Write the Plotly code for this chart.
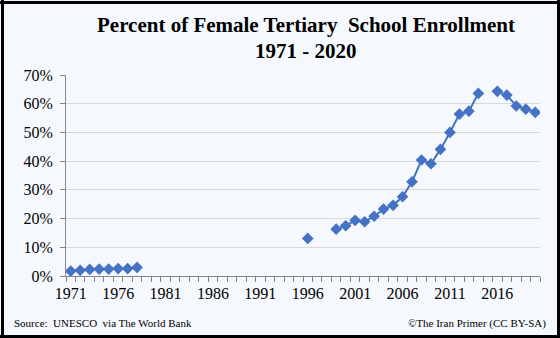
import plotly.graph_objects as go

years = list(range(1971, 2021))
enroll = {
    1971: 1.7, 1972: 2.0, 1973: 2.3, 1974: 2.4, 1975: 2.4, 1976: 2.6, 1977: 2.6, 1978: 3.0,
    1996: 13.1,
    1999: 16.3, 2000: 17.5, 2001: 19.4, 2002: 18.9, 2003: 20.8, 2004: 23.3, 2005: 24.6,
    2006: 27.6, 2007: 32.8, 2008: 40.4, 2009: 39.1, 2010: 44.1, 2011: 50.0, 2012: 56.4,
    2013: 57.4, 2014: 63.6,
    2016: 64.3, 2017: 63.0, 2018: 59.2, 2019: 58.1, 2020: 57.0,
}
values = [enroll.get(y) for y in years]
tick_years = list(range(1971, 2020, 5))
y_ticks = list(range(0, 71, 10))

serif = "Liberation Serif, Times New Roman, serif"
blue = "#4472C4"

fig = go.Figure()
fig.add_trace(go.Scatter(
    x=years, y=values, mode="lines+markers", connectgaps=False,
    line=dict(color=blue, width=2),
    marker=dict(symbol="diamond", size=9, color=blue),
    hoverinfo="x+y",
))

L, R, T, B = 66, 20, 75, 62
W, H = 560, 338
pw, ph = W - L - R, H - T - B

def px(x):
    return (x - L) / pw

def py(y):
    return (H - B - y) / ph

fig.update_layout(
    width=W, height=H,
    margin=dict(l=L, r=R, t=T, b=B),
    paper_bgcolor="#F5F9FD", plot_bgcolor="#F5F9FD",
    showlegend=False,
    font=dict(family=serif, color="#000000"),
    xaxis=dict(
        range=[1970.5, 2020.5], tickmode="array", tickvals=tick_years,
        ticktext=[str(t) for t in tick_years], ticks="", showgrid=False,
        showline=True, linecolor="#868686", linewidth=1,
        tickfont=dict(family=serif, size=16), zeroline=False,
        ticklabelstandoff=3,
        minor=dict(tick0=1970.5, dtick=1, ticks="outside", ticklen=5,
                   tickcolor="#868686", showgrid=False),
    ),
    yaxis=dict(
        range=[0, 70], tickmode="array", tickvals=y_ticks,
        ticktext=[f"{v}%" for v in y_ticks], ticks="outside", ticklen=5,
        tickcolor="#868686", showgrid=True, gridcolor="#D9D9D9", gridwidth=1,
        showline=True, linecolor="#868686", linewidth=1, zeroline=False,
        tickfont=dict(family=serif, size=16), ticklabelstandoff=4,
    ),
)

# title lines
fig.add_annotation(text="<b>Percent of Female Tertiary  School Enrollment</b>",
                   xref="paper", yref="paper", x=px(306), y=py(25),
                   xanchor="center", yanchor="middle", showarrow=False,
                   font=dict(family=serif, size=21, color="#000000"))
fig.add_annotation(text="<b>1971 - 2020</b>",
                   xref="paper", yref="paper", x=px(306), y=py(51),
                   xanchor="center", yanchor="middle", showarrow=False,
                   font=dict(family=serif, size=21, color="#000000"))

# outer black frame, four separate edges
edges = [(0, 2.5, W, 2.5), (0, H - 1.5, W, H - 1.5),
         (2.5, 0, 2.5, H), (W - 1.5, 0, W - 1.5, H)]
for (x0, y0, x1, y1) in edges:
    fig.add_shape(type="line", xref="paper", yref="paper",
                  x0=px(x0), x1=px(x1), y0=py(y0), y1=py(y1),
                  line=dict(color="#000000", width=3), layer="above")

fig.add_annotation(text="Source:  UNESCO  via The World Bank", xref="paper", yref="paper",
                   x=px(12), y=py(323), xanchor="left", yanchor="middle",
                   showarrow=False, font=dict(family=serif, size=11, color="#000000"))
fig.add_annotation(text="©The Iran Primer (CC BY-SA)", xref="paper", yref="paper",
                   x=px(548), y=py(323), xanchor="right", yanchor="middle",
                   showarrow=False, font=dict(family=serif, size=11, color="#000000"))

fig.write_html("out.html")
